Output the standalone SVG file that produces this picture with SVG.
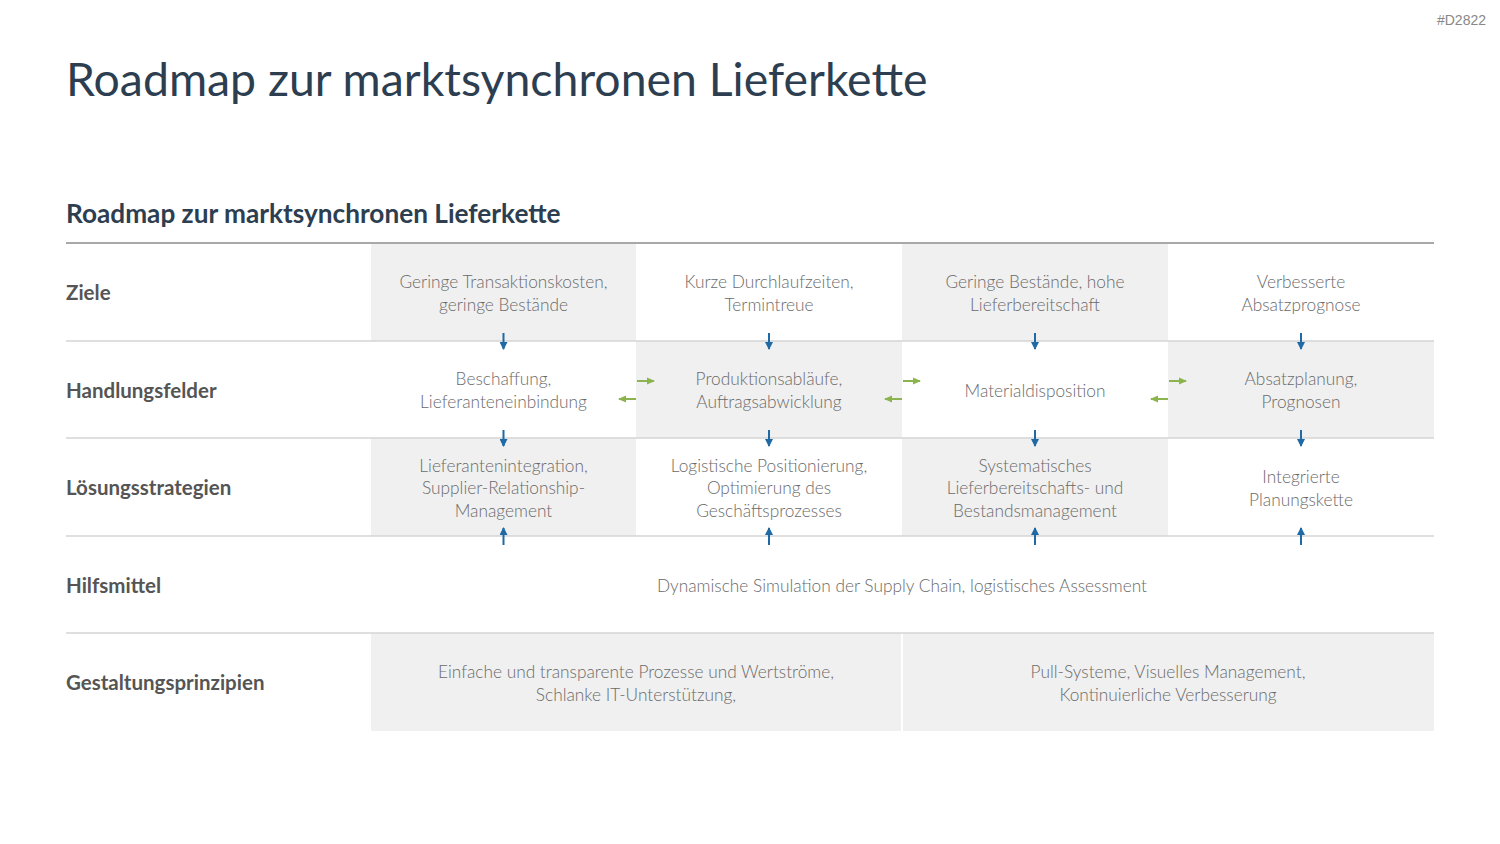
<svg xmlns="http://www.w3.org/2000/svg" width="1500" height="844" viewBox="0 0 1500 844">
<style>
.title{font-family:Lato,"Open Sans",sans-serif;font-size:46.4px;fill:#2c3e50;font-weight:400}
.sub{font-family:Lato,"Open Sans",sans-serif;font-size:26.2px;fill:#2c3e50;font-weight:700}
.rl{font-family:Lato,"Open Sans",sans-serif;font-size:20.5px;fill:#555;font-weight:700}
.ct{font-family:Lato,"Open Sans",sans-serif;font-size:17.3px;fill:#6a6a6a;font-weight:300;text-anchor:middle}
.tag{font-family:"Liberation Sans",sans-serif;font-size:14px;fill:#888;text-anchor:end}
.cell{fill:#f0f0f0}
.sep{stroke:#d4d4d4;stroke-width:1.5}
.blue{stroke:#1f6aa5;stroke-width:2;fill:none}
.green{stroke:#8cb44e;stroke-width:2;fill:none}
</style>
<defs>
<marker id="ab" markerWidth="8" markerHeight="8" refX="7" refY="4" orient="auto" markerUnits="userSpaceOnUse" viewBox="0 0 8 8"><path d="M0,0 L8,4 L0,8 z" fill="#1f6aa5"/></marker>
<marker id="ag" markerWidth="8" markerHeight="8" refX="7" refY="4" orient="auto" markerUnits="userSpaceOnUse" viewBox="0 0 8 8"><path d="M0,0.5 L8,4 L0,7.5 z" fill="#8cb44e"/></marker>
</defs>
<rect width="1500" height="844" fill="#fff"/>
<text class="tag" x="1486" y="25">#D2822</text>
<text class="title" x="66" y="96">Roadmap zur marktsynchronen Lieferkette</text>
<text class="sub" x="66" y="223">Roadmap zur marktsynchronen Lieferkette</text>

<g id="cells">
<rect class="cell" x="371" y="244" width="265" height="97"/>
<rect class="cell" x="902" y="244" width="266" height="97"/>
<rect class="cell" x="636" y="341" width="266" height="97"/>
<rect class="cell" x="1168" y="341" width="266" height="97"/>
<rect class="cell" x="371" y="438" width="265" height="98"/>
<rect class="cell" x="902" y="438" width="266" height="98"/>
<rect class="cell" x="371" y="633" width="530" height="98"/>
<rect class="cell" x="903" y="633" width="531" height="98"/>
</g>

<g id="lines">
<line x1="66" y1="243" x2="1434" y2="243" stroke="#a8a8a8" stroke-width="2"/>
<line class="sep" x1="66" y1="341" x2="1434" y2="341"/>
<line class="sep" x1="66" y1="438" x2="1434" y2="438"/>
<line class="sep" x1="66" y1="536" x2="1434" y2="536"/>
<line class="sep" x1="66" y1="633" x2="1434" y2="633"/>
</g>

<g id="row-labels">
<text class="rl" x="66" y="300">Ziele</text>
<text class="rl" x="66" y="398">Handlungsfelder</text>
<text class="rl" x="66" y="495">Lösungsstrategien</text>
<text class="rl" x="66" y="593">Hilfsmittel</text>
<text class="rl" x="66" y="690">Gestaltungsprinzipien</text>
</g>

<g id="ziele">
<text class="ct" x="503.5" y="288">Geringe Transaktionskosten,</text>
<text class="ct" x="503.5" y="311">geringe Bestände</text>
<text class="ct" x="769" y="288">Kurze Durchlaufzeiten,</text>
<text class="ct" x="769" y="311">Termintreue</text>
<text class="ct" x="1035" y="288">Geringe Bestände, hohe</text>
<text class="ct" x="1035" y="311">Lieferbereitschaft</text>
<text class="ct" x="1301" y="288">Verbesserte</text>
<text class="ct" x="1301" y="311">Absatzprognose</text>
</g>

<g id="handlungsfelder">
<text class="ct" x="503.5" y="385">Beschaffung,</text>
<text class="ct" x="503.5" y="408">Lieferanteneinbindung</text>
<text class="ct" x="769" y="385">Produktionsabläufe,</text>
<text class="ct" x="769" y="408">Auftragsabwicklung</text>
<text class="ct" x="1035" y="397">Materialdisposition</text>
<text class="ct" x="1301" y="385">Absatzplanung,</text>
<text class="ct" x="1301" y="408">Prognosen</text>
</g>

<g id="loesungsstrategien">
<text class="ct" x="503.5" y="472">Lieferantenintegration,</text>
<text class="ct" x="503.5" y="494">Supplier-Relationship-</text>
<text class="ct" x="503.5" y="517">Management</text>
<text class="ct" x="769" y="472">Logistische Positionierung,</text>
<text class="ct" x="769" y="494">Optimierung des</text>
<text class="ct" x="769" y="517">Geschäftsprozesses</text>
<text class="ct" x="1035" y="472">Systematisches</text>
<text class="ct" x="1035" y="494">Lieferbereitschafts- und</text>
<text class="ct" x="1035" y="517">Bestandsmanagement</text>
<text class="ct" x="1301" y="483">Integrierte</text>
<text class="ct" x="1301" y="506">Planungskette</text>
</g>

<g id="hilfsmittel">
<text class="ct" x="902" y="592">Dynamische Simulation der Supply Chain, logistisches Assessment</text>
</g>

<g id="gestaltungsprinzipien">
<text class="ct" x="636" y="678">Einfache und transparente Prozesse und Wertströme,</text>
<text class="ct" x="636" y="701">Schlanke IT-Unterstützung,</text>
<text class="ct" x="1168" y="678">Pull-Systeme, Visuelles Management,</text>
<text class="ct" x="1168" y="701">Kontinuierliche Verbesserung</text>
</g>

<g id="connectors">
<line class="blue" x1="503.5" y1="333" x2="503.5" y2="349" marker-end="url(#ab)"/>
<line class="blue" x1="769" y1="333" x2="769" y2="349" marker-end="url(#ab)"/>
<line class="blue" x1="1035" y1="333" x2="1035" y2="349" marker-end="url(#ab)"/>
<line class="blue" x1="1301" y1="333" x2="1301" y2="349" marker-end="url(#ab)"/>
<line class="blue" x1="503.5" y1="430" x2="503.5" y2="446" marker-end="url(#ab)"/>
<line class="blue" x1="769" y1="430" x2="769" y2="446" marker-end="url(#ab)"/>
<line class="blue" x1="1035" y1="430" x2="1035" y2="446" marker-end="url(#ab)"/>
<line class="blue" x1="1301" y1="430" x2="1301" y2="446" marker-end="url(#ab)"/>
<line class="blue" x1="503.5" y1="545" x2="503.5" y2="528" marker-end="url(#ab)"/>
<line class="blue" x1="769" y1="545" x2="769" y2="528" marker-end="url(#ab)"/>
<line class="blue" x1="1035" y1="545" x2="1035" y2="528" marker-end="url(#ab)"/>
<line class="blue" x1="1301" y1="545" x2="1301" y2="528" marker-end="url(#ab)"/>
<line class="green" x1="637" y1="381" x2="654" y2="381" marker-end="url(#ag)"/>
<line class="green" x1="636" y1="399" x2="619" y2="399" marker-end="url(#ag)"/>
<line class="green" x1="903" y1="381" x2="920" y2="381" marker-end="url(#ag)"/>
<line class="green" x1="902" y1="399" x2="885" y2="399" marker-end="url(#ag)"/>
<line class="green" x1="1169" y1="381" x2="1186" y2="381" marker-end="url(#ag)"/>
<line class="green" x1="1168" y1="399" x2="1151" y2="399" marker-end="url(#ag)"/>
</g>
</svg>
